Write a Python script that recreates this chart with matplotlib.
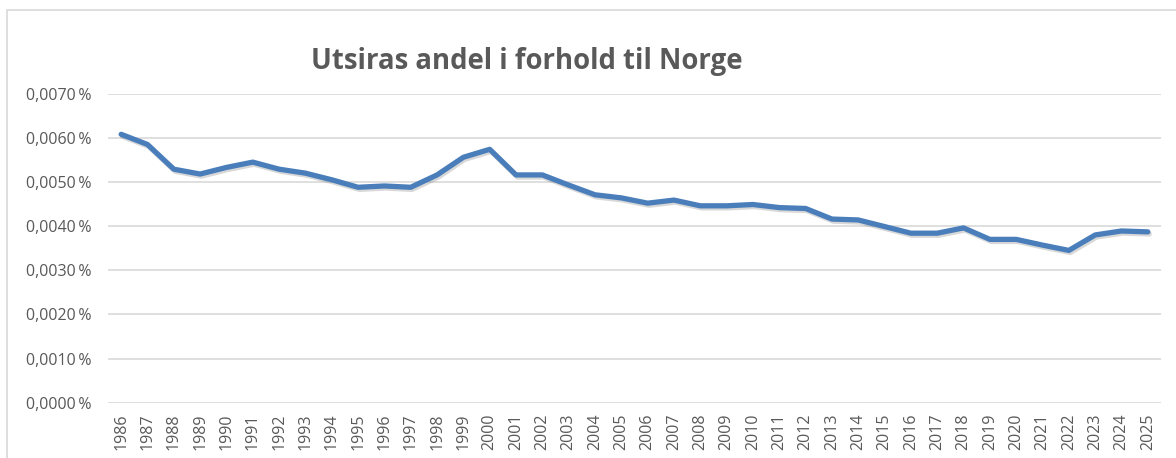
import matplotlib
matplotlib.use("Agg")
import matplotlib.pyplot as plt
import matplotlib.patheffects as pe
from matplotlib.ticker import FuncFormatter, MultipleLocator

years = [str(y) for y in range(1986, 2026)]
share_pct = [0.00608, 0.00585, 0.00529, 0.00518, 0.00533, 0.00545, 0.00529, 0.00520,
             0.00505, 0.00488, 0.00491, 0.00488, 0.00516, 0.00556, 0.00574, 0.00516,
             0.00516, 0.00493, 0.00471, 0.00464, 0.00452, 0.00459, 0.00446, 0.00446,
             0.00449, 0.00442, 0.00440, 0.00416, 0.00414, 0.00399, 0.00384, 0.00384,
             0.00396, 0.00370, 0.00370, 0.00357, 0.00345, 0.00380, 0.00389, 0.00387]
title = "Utsiras andel i forhold til Norge"

W, H = 1176, 458
fig = plt.figure(figsize=(W / 100, H / 100), dpi=100)
fig.patch.set_facecolor("white")

# outer chart frame (partially cropped)
frame = plt.Rectangle((7 / W, -0.1), 1.2, (H - 10) / H + 0.1, transform=fig.transFigure,
                      fill=False, edgecolor="#d9d9d9", linewidth=1.2)
fig.add_artist(frame)

ax = fig.add_axes([108 / W, (H - 402.7) / H, (1161 - 108) / W, (402.7 - 93.7) / H])
x = list(range(len(years)))
ax.plot(x, share_pct, color="#4a7ebb", linewidth=3.8, solid_capstyle="round",
        solid_joinstyle="round",
        path_effects=[pe.SimpleLineShadow(offset=(1.0, -1.5), shadow_color="#7f7f7f", alpha=0.3),
                      pe.Normal()])
ax.set_xlim(-0.5, len(years) - 0.5)
ax.set_ylim(0, 0.007)
ax.yaxis.set_major_locator(MultipleLocator(0.001))
ax.yaxis.set_major_formatter(FuncFormatter(lambda v, p: f"{v:.4f}".replace(".", ",") + "\u2009%"))
ax.set_xticks(x)
ax.set_xticklabels(years, rotation=90)
ax.grid(axis="y", color="#d9d9d9", linewidth=1.2)
ax.set_axisbelow(True)
for s in ax.spines.values():
    s.set_visible(False)
ax.tick_params(axis="both", length=0, colors="#595959", labelsize=11.5)
ax.tick_params(axis="y", pad=12)
ax.tick_params(axis="x", pad=8)
for lab in ax.get_xticklabels() + ax.get_yticklabels():
    lab.set_fontfamily("Open Sans")

fig.text(527 / W, (H - 62) / H, title, ha="center", va="center", fontsize=19.8,
         fontweight="bold", color="#595959", fontfamily="Open Sans")

fig.savefig("out.png", dpi=100)
